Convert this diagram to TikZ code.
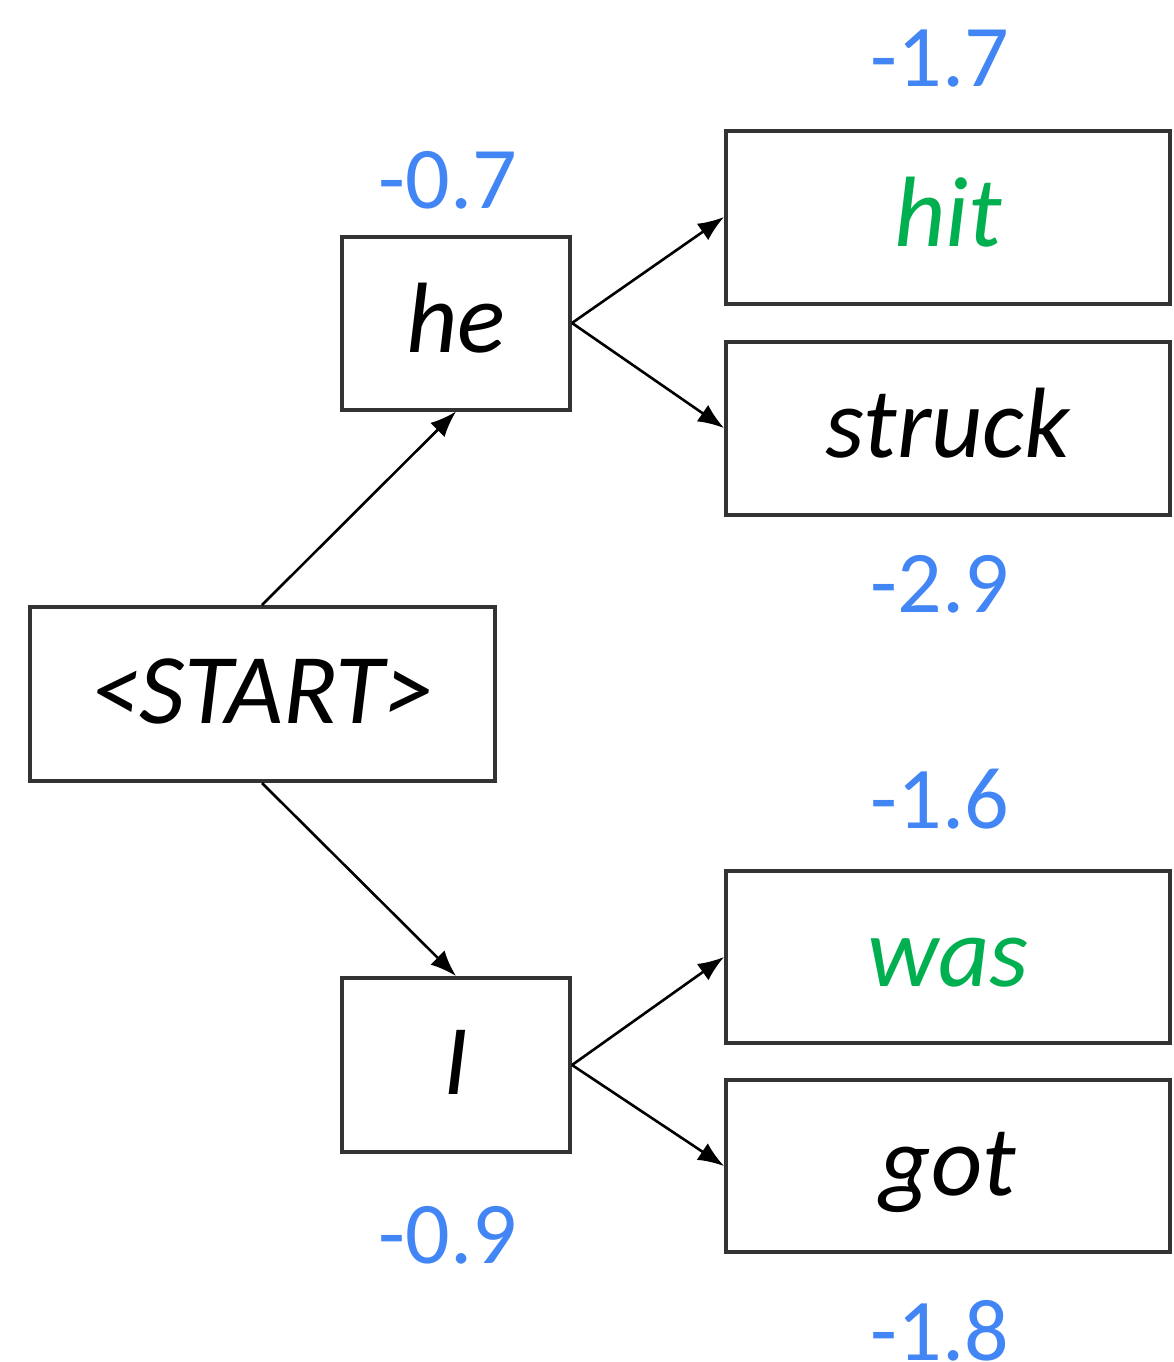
\documentclass[tikz,border=0pt]{standalone}
\usepackage{fontspec}
\setmainfont{Carlito}
\usetikzlibrary{arrows.meta}
\definecolor{scoreblue}{HTML}{4285F4}
\definecolor{wordgreen}{HTML}{00B050}
\tikzset{
  wordbox/.style={draw=black!80, line width=2pt, fill=white, inner sep=0pt,
    font=\fontsize{50pt}{50pt}\selectfont\itshape, text height=34pt, text depth=5pt},
  score/.style={text=scoreblue, anchor=base, inner sep=0pt,
    font=\fontsize{44pt}{44pt}\selectfont},
  conn/.style={line width=1.3pt, -{Latex[length=13pt,width=10pt]}}
}
\begin{document}
\begin{tikzpicture}[x=0.5pt,y=-0.5pt]
\useasboundingbox (0,0) rectangle (1174,1362);
\node[wordbox, minimum width=232.5pt, minimum height=87pt] (start) at (262,694) {<START>};
\node[wordbox, minimum width=114pt, minimum height=86.5pt] (he) at (456,323) {he};
\node[wordbox, minimum width=114pt, minimum height=87pt] (i) at (456,1065) {I};
\node[wordbox, minimum width=222pt, minimum height=86.5pt, text=wordgreen] (hit) at (948,217) {hit};
\node[wordbox, minimum width=222pt, minimum height=86.5pt] (struck) at (948,428) {struck};
\node[wordbox, minimum width=222pt, minimum height=86pt, text=wordgreen] (was) at (948,957) {was};
\node[wordbox, minimum width=222pt, minimum height=86pt] (got) at (948,1166) {got};
\node[score] (s17) at (940,86) {-1.7};
\node[score] (s07) at (448,208) {-0.7};
\node[score] (s29) at (940,612) {-2.9};
\node[score] (s16) at (940,828) {-1.6};
\node[score] (s09) at (448,1263) {-0.9};
\node[score] (s18) at (940,1360) {-1.8};
\draw[conn] (start.north) -- (he.south);
\draw[conn] (start.south) -- (i.north);
\draw[conn] (he.east) -- (hit.west);
\draw[conn] (he.east) -- (struck.west);
\draw[conn] (i.east) -- (was.west);
\draw[conn] (i.east) -- (got.west);
\end{tikzpicture}
\end{document}
